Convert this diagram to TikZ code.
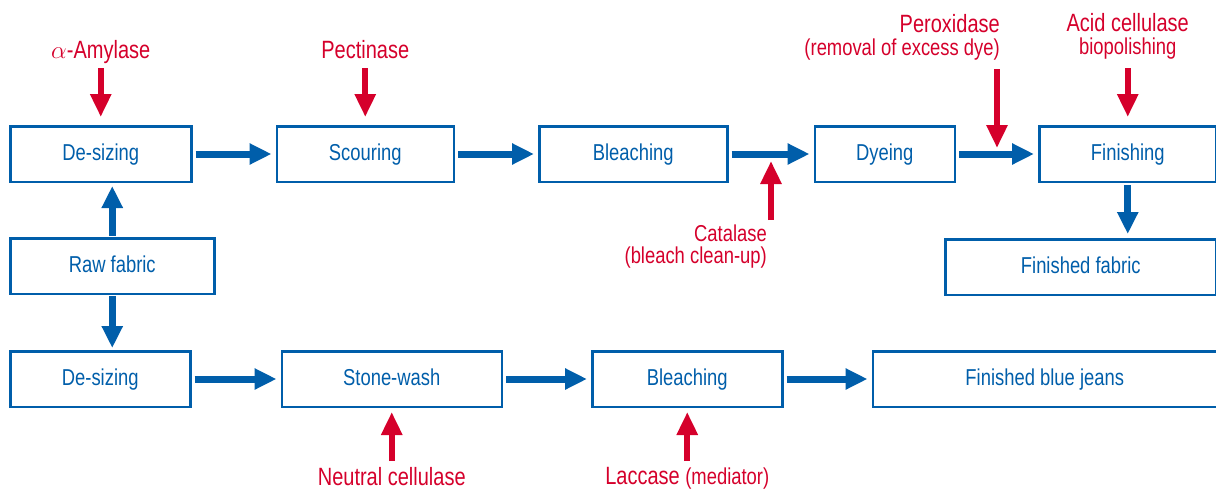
\documentclass[tikz,border=0pt]{standalone}
\usepackage{fontspec}
\setsansfont[FakeStretch=0.8]{Liberation Sans}
\usepackage{tikz}
\usetikzlibrary{arrows.meta,positioning,calc}
\definecolor{procblue}{RGB}{0,94,170}
\definecolor{enzred}{RGB}{213,0,43}
\newcommand{\enznote}[1]{{\fontsize{23}{23}\selectfont #1}}

\begin{document}
\begin{tikzpicture} %
		[
			x=1pt, y=-1pt,
			font={\sffamily},
			stage/.style={
				draw=procblue,
				text=procblue,
				rectangle,
				line width=2.5pt,
				inner sep=0,
				minimum height=55.5pt,
				text height=16pt,
				text depth=4pt,
				font={\fontsize{23}{26}\selectfont\sffamily},
			},
			flow/.style={procblue, line width=7pt, -{Triangle[width=20pt,length=22pt]}, shorten <=3pt, shorten >=4pt},
			enzyme/.style={enzred, line width=6pt, -{Triangle[width=20pt,length=23pt]}},
			enz/.style={text=enzred, inner sep=0, text depth=0pt, font={\fontsize{25}{23}\selectfont\sffamily}},
			note/.style={font={\fontsize{23}{22}\selectfont\sffamily}},
		]
		\useasboundingbox (0,0) rectangle (1216,490);
		% cotton line
		\node[stage, minimum width=181pt, anchor=north west] (desA) at (9,125) {De-sizing};
		\node[stage, minimum width=177pt, right =83pt of desA] (scour) {Scouring};
		\node[stage, minimum width=188pt, right =83pt of scour] (bleachA) {Bleaching};
		\node[stage, minimum width=140pt, right =85pt of bleachA] (dye) {Dyeing};
		\node[stage, minimum width=177pt, right =82pt of dye] (fin) {Finishing};
		\node[stage, minimum width=204pt, below right =54pt and 0pt of desA.south west] (raw) {Raw fabric};
		\node[stage, minimum width=271pt, below left =55pt and 0pt of fin.south east] (finfab) {Finished fabric};
		% denim line
		\node[stage, minimum width=180pt, below right =55pt and 0pt of raw.south west] (desB) {De-sizing};
		\node[stage, minimum width=220pt, right =89pt of desB] (stone) {Stone-wash};
		\node[stage, minimum width=190pt, right =88pt of stone] (bleachB) {Bleaching};
		\node[stage, minimum width=344pt, right =88pt of bleachB] (jeans) {Finished blue jeans};
		
		\draw[flow] (desA) -- (scour);
		\draw[flow] (scour) -- (bleachA);
		\draw[flow] (bleachA) -- coordinate[pos=0.5] (bdmid) (dye);
		\draw[flow] (dye) -- coordinate[pos=0.5] (dfmid) (fin);
		\draw[flow, shorten <=1pt, shorten >=3pt] (raw) -- (raw |- desA.south);
		\draw[flow, shorten <=1pt, shorten >=2pt] (raw) -- (raw |- desB.north);
		\draw[flow, shorten <=2pt] (fin) -- (fin |- finfab.north);
		\draw[flow] (desB) -- (stone);
		\draw[flow] (stone) -- (bleachB);
		\draw[flow] (bleachB) -- (jeans);
		
		\node[enz, above =66pt of desA.north] (amy) {$\alpha$-Amylase};
		\node[enz, above =66pt of scour.north] (pect) {Pectinase};
		\node[enz, align=right, above left =98pt and -3pt of dfmid] (perox) {Peroxidase\\\enznote{(removal of excess dye)}};
		\node[enz, align=center, above =70pt of fin.north] (acid) {Acid cellulase\\\enznote{biopolishing}};
		\node[enz, note, align=right, below left =71pt and 4pt of bdmid] (cat) {Catalase\\(bleach clean-up)};
		\node[enz, below =59pt of stone.south] (neut) {Neutral cellulase};
		\node[enz, below =59pt of bleachB.south] (lac) {Laccase \enznote{(mediator)}};
		
		\draw[enzyme, shorten <=9pt, shorten >=8pt] (amy) -- (desA);
		\draw[enzyme, shorten <=9pt, shorten >=8pt] (pect) -- (scour);
		\draw[enzyme, shorten <=13pt, shorten >=6pt] (perox.south -| dfmid) -- (dfmid);
		\draw[enzyme, shorten <=13pt, shorten >=8pt] (acid) -- (fin);
		\draw[enzyme, shorten <=5pt, shorten >=7pt] (cat.north -| bdmid) -- (bdmid);
		\draw[enzyme, shorten <=6pt, shorten >=4pt] (neut) -- (stone);
		\draw[enzyme, shorten <=6pt, shorten >=4pt] (lac) -- (bleachB);
	\end{tikzpicture}
\end{document}
